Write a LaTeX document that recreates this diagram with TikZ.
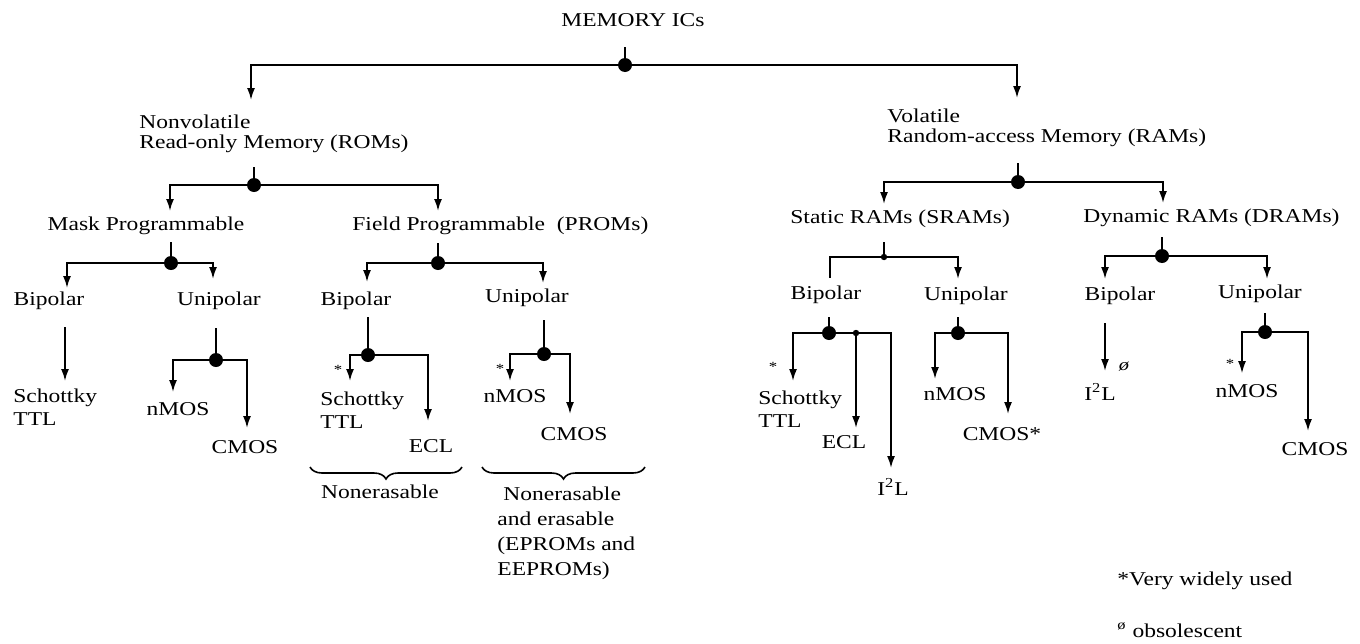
\documentclass[tikz,border=0pt]{standalone}
\usepackage{fontspec}
\setmainfont{Liberation Serif}[FakeStretch=1.2]
\usetikzlibrary{arrows.meta,decorations.pathreplacing}
\tikzset{
  lbl/.style={inner sep=0pt, font=\fontsize{9.8pt}{10.5pt}\selectfont},
  lbltwo/.style={inner sep=0pt, align=left, font=\fontsize{9.8pt}{11.5pt}\selectfont},
  bigdot/.style={circle, fill=black, inner sep=0pt, minimum size=7pt},
  smalldot/.style={circle, fill=black, inner sep=0pt, minimum size=3.2pt},
  ln/.style={line width=0.9pt},
  arr/.style={line width=0.9pt, -{Latex[length=6pt,width=4pt]}},
  bracestyle/.style={line width=0.8pt, decorate, decoration={brace, amplitude=6pt}},
  star/.style={inner sep=0pt, font=\fontsize{7pt}{8pt}\selectfont},
  obsmark/.style={inner sep=0pt, font=\fontsize{8.5pt}{9pt}\selectfont}
}
\begin{document}
\begin{tikzpicture}[x=0.5pt, y=-0.5pt]
\useasboundingbox[fill=white] (0,0) rectangle (1360,643);

% ---------- labels ----------
\node[lbl, anchor=base] (mem) at (633,26) {MEMORY ICs};
\node[lbl, align=left, anchor=base west, font=\fontsize{9.8pt}{10pt}\selectfont] (rom) at (139,148) {Nonvolatile\\Read-only Memory (ROMs)};
\node[lbl, align=left, anchor=base west, font=\fontsize{9.8pt}{10pt}\selectfont] (ram) at (887,142) {Volatile\\Random-access Memory (RAMs)};
\node[lbl, anchor=base] (mask) at (146,230) {Mask Programmable};
\node[lbl, anchor=base west] (field) at (352,230) {Field Programmable\ \ (PROMs)};
\node[lbl, anchor=base] (mBip) at (49,305) {Bipolar};
\node[lbl, anchor=base] (mUni) at (219,305) {Unipolar};
\node[lbl, anchor=base] (fBip) at (356,305) {Bipolar};
\node[lbl, anchor=base] (fUni) at (527,302) {Unipolar};
\node[lbl, anchor=base west] (sram) at (790,223) {Static RAMs (SRAMs)};
\node[lbl, anchor=base west] (dram) at (1083,222) {Dynamic RAMs (DRAMs)};
\node[lbl, anchor=base] (sBip) at (826,299) {Bipolar};
\node[lbl, anchor=base] (sUni) at (966,300) {Unipolar};
\node[lbl, anchor=base] (dBip) at (1120,300) {Bipolar};
\node[lbl, anchor=base] (dUni) at (1260,298) {Unipolar};

% leaves
\node[lbltwo, anchor=base west] (mTTL) at (13,425) {Schottky\\TTL};
\node[lbl, anchor=base] (mN) at (178,415) {nMOS};
\node[lbl, anchor=base] (mC) at (245,453) {CMOS};
\node[lbltwo, anchor=base west] (fTTL) at (320,428) {Schottky\\TTL};
\node[lbl, anchor=base] (fE) at (431,452) {ECL};
\node[lbl, anchor=base] (fN) at (515,402) {nMOS};
\node[lbl, anchor=base] (fC) at (574,440) {CMOS};
\node[lbltwo, anchor=base west] (sTTL) at (758,427) {Schottky\\TTL};
\node[lbl, anchor=base] (sE) at (844,448) {ECL};
\node[lbl, anchor=base] (sI) at (893,495) {I\textsuperscript{2}L};
\node[lbl, anchor=base] (sN) at (955,400) {nMOS};
\node[lbl, anchor=base] (sC) at (1002,440) {CMOS*};
\node[lbl, anchor=base] (dI) at (1100,400) {I\textsuperscript{2}L};
\node[lbl, anchor=base] (dN) at (1247,397) {nMOS};
\node[lbl, anchor=base] (dC) at (1315,455) {CMOS};

% marks
\node[star] (st1) at (338,370) {*};
\node[star] (st2) at (500,369) {*};
\node[star] (st3) at (773,367) {*};
\node[star] (st4) at (1230,364) {*};
\node[obsmark] (obs1) at (1124,367) {\itshape ø};

% brace labels and footnotes
\node[lbl, anchor=base] (ne1) at (380,498) {Nonerasable};
\node[lbl, align=left, anchor=base west, font=\fontsize{9.8pt}{12.5pt}\selectfont] (ne2) at (497,575) {\hspace*{3pt}Nonerasable\\and erasable\\(EPROMs and\\EEPROMs)};
\node[lbl, anchor=base west] (fn1) at (1117,585) {*Very widely used};
\node[lbl, anchor=base west] (fn2) at (1117,637) {\textsuperscript{ø}\ obsolescent};

% ---------- junctions ----------
\node[bigdot] (jTop) at (625,65) {};
\node[bigdot] (jRom) at (254,185) {};
\node[bigdot] (jMask) at (171,263) {};
\node[bigdot] (jField) at (438,263) {};
\node[bigdot] (jmU) at (216,360) {};
\node[bigdot] (jfB) at (368,355) {};
\node[bigdot] (jfU) at (544,354) {};
\node[bigdot] (jRam) at (1018,182) {};
\node[smalldot] (jSram) at (884,257) {};
\node[bigdot] (jsB) at (829,333) {};
\node[smalldot] (jsE) at (856,333) {};
\node[bigdot] (jsU) at (958,333) {};
\node[bigdot] (jDram) at (1162,256) {};
\node[bigdot] (jdU) at (1265,332) {};

% stub tops and arrow tips
\coordinate (sTop) at (625,47);
\coordinate (sRom) at (254,167);
\coordinate (sMask) at (171,242);
\coordinate (sField) at (438,243);
\coordinate (smU) at (216,328);
\coordinate (sfB) at (368,317);
\coordinate (sfU) at (544,320);
\coordinate (sRam) at (1018,163);
\coordinate (sSram) at (884,242);
\coordinate (ssB) at (829,317);
\coordinate (ssU) at (958,317);
\coordinate (sDram) at (1162,237);
\coordinate (sdU) at (1265,313);

\coordinate (tRom) at (251,100);
\coordinate (tRam) at (1017,98);
\coordinate (tMask) at (170,211);
\coordinate (tField) at (438,211);
\coordinate (tmB) at (67,288);
\coordinate (tmU) at (213,279);
\coordinate (tfB) at (367,282);
\coordinate (tfU) at (543,283);
\coordinate (mBa) at (65,327);
\coordinate (tmBb) at (65,381);
\coordinate (tmN) at (173,392);
\coordinate (tmC) at (247,428);
\coordinate (tfTTL) at (350,381);
\coordinate (tfE) at (428,421);
\coordinate (tfN) at (510,381);
\coordinate (tfC) at (570,414);
\coordinate (tSram) at (884,204);
\coordinate (tDram) at (1163,203);
\coordinate (tsB) at (830,278);
\coordinate (tsU) at (958,279);
\coordinate (tsTTL) at (793,381);
\coordinate (tsE) at (856,428);
\coordinate (tsI) at (891,468);
\coordinate (tsN) at (935,379);
\coordinate (tsC) at (1008,414);
\coordinate (tdB) at (1105,279);
\coordinate (tdU) at (1267,279);
\coordinate (dBa) at (1105,323);
\coordinate (tdBb) at (1105,371);
\coordinate (tdN) at (1242,373);
\coordinate (tdC) at (1308,431);

% ---------- connectors ----------
\draw[ln] (sTop) -- (jTop.center);
\draw[arr] (jTop.center) -| (tRom);
\draw[arr] (jTop.center) -| (tRam);

\draw[ln] (sRom) -- (jRom.center);
\draw[arr] (jRom.center) -| (tMask);
\draw[arr] (jRom.center) -| (tField);

\draw[ln] (sMask) -- (jMask.center);
\draw[arr] (jMask.center) -| (tmB);
\draw[arr] (jMask.center) -| (tmU);

\draw[ln] (sField) -- (jField.center);
\draw[arr] (jField.center) -| (tfB);
\draw[arr] (jField.center) -| (tfU);

\draw[arr] (mBa) -- (tmBb);

\draw[ln] (smU) -- (jmU.center);
\draw[arr] (jmU.center) -| (tmN);
\draw[arr] (jmU.center) -| (tmC);

\draw[ln] (sfB) -- (jfB.center);
\draw[arr] (jfB.center) -| (tfTTL);
\draw[arr] (jfB.center) -| (tfE);

\draw[ln] (sfU) -- (jfU.center);
\draw[arr] (jfU.center) -| (tfN);
\draw[arr] (jfU.center) -| (tfC);

\draw[ln] (sRam) -- (jRam.center);
\draw[arr] (jRam.center) -| (tSram);
\draw[arr] (jRam.center) -| (tDram);

\draw[ln] (sSram) -- (jSram.center);
\draw[ln] (jSram.center) -| (tsB);
\draw[arr] (jSram.center) -| (tsU);

\draw[ln] (ssB) -- (jsB.center);
\draw[arr] (jsB.center) -| (tsTTL);
\draw[arr] (jsE.center) -- (tsE);
\draw[arr] (jsB.center) -| (tsI);

\draw[ln] (ssU) -- (jsU.center);
\draw[arr] (jsU.center) -| (tsN);
\draw[arr] (jsU.center) -| (tsC);

\draw[ln] (sDram) -- (jDram.center);
\draw[arr] (jDram.center) -| (tdB);
\draw[arr] (jDram.center) -| (tdU);

\draw[arr] (dBa) -- (tdBb);

\draw[ln] (sdU) -- (jdU.center);
\draw[arr, line width=0.6pt] (jdU.center) -| (tdN);
\draw[arr] (jdU.center) -| (tdC);

% braces
\draw[bracestyle] (462,467) -- (310,467);
\draw[bracestyle] (645,467) -- (482,467);
\end{tikzpicture}
\end{document}
